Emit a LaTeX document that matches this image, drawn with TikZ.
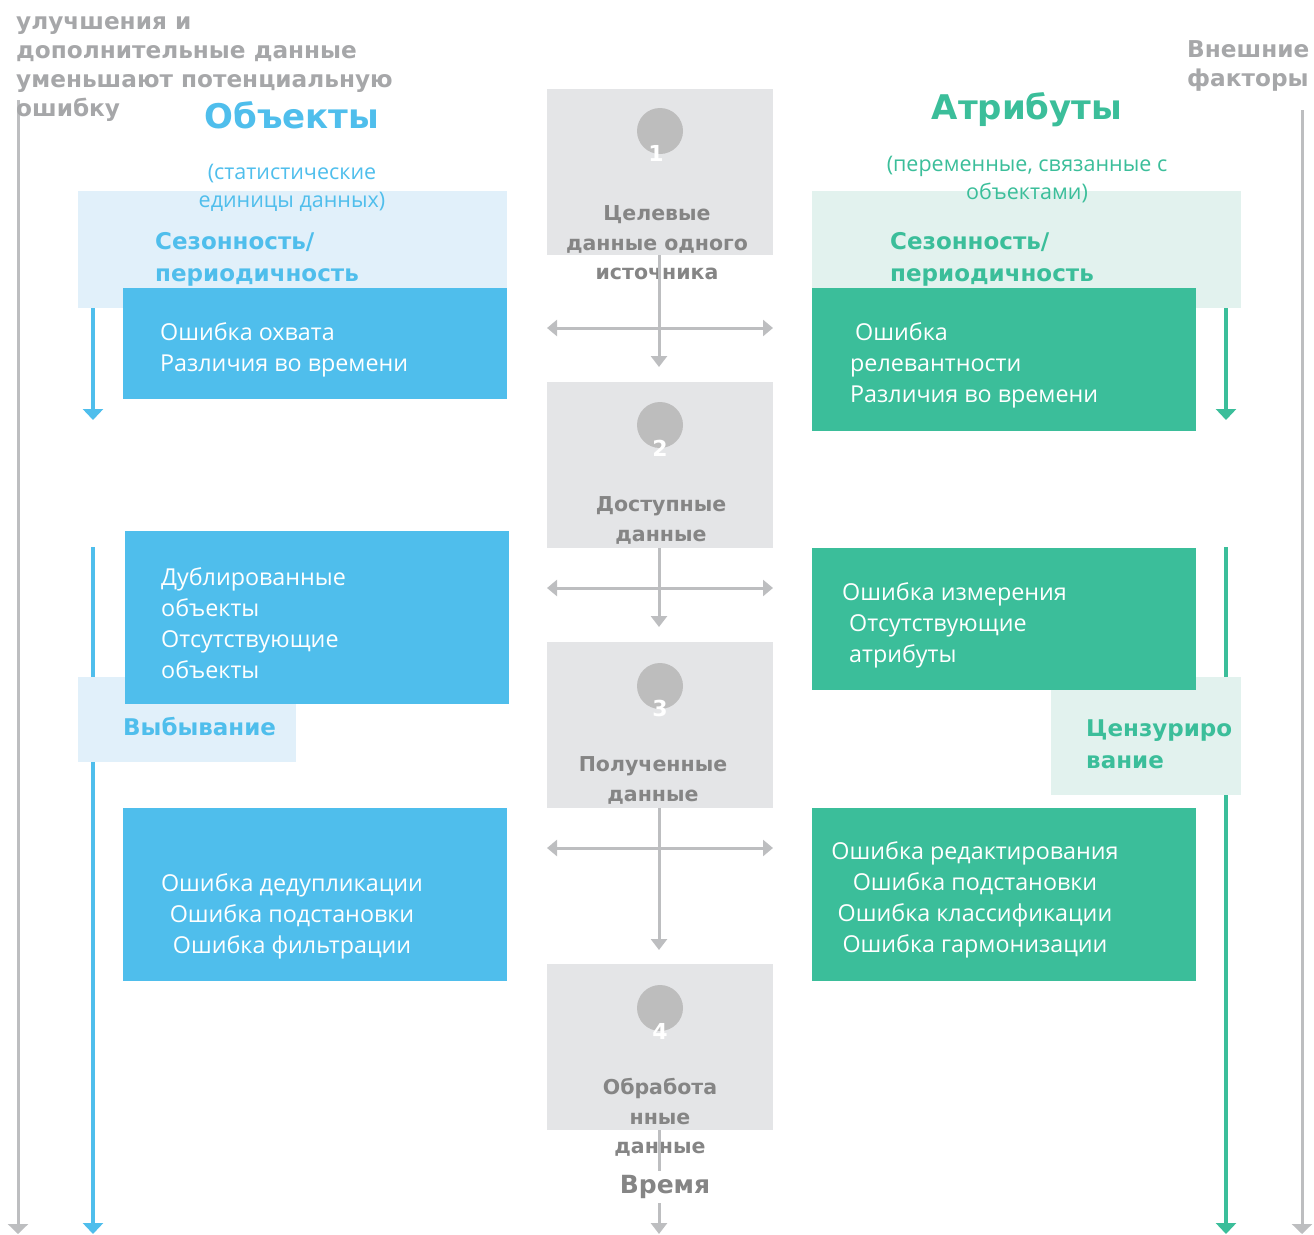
\documentclass[tikz,border=0pt]{standalone}
\usepackage{fontspec}
\setmainfont{Open Sans}
\newfontfamily\hfont{DejaVu Sans}
\usetikzlibrary{arrows.meta}

\definecolor{objblue}{HTML}{4FBEEC}
\definecolor{objlight}{HTML}{E1F0FA}
\definecolor{attgreen}{HTML}{3BBE9A}
\definecolor{attlight}{HTML}{E2F2EE}
\definecolor{stagegray}{HTML}{E4E5E7}
\definecolor{dotgray}{HTML}{BDBDBD}
\definecolor{linegray}{HTML}{BDBEC0}
\definecolor{notegray}{HTML}{A6A7A9}
\definecolor{stagetext}{HTML}{858585}

\begin{document}
\begin{tikzpicture}[x=1pt,y=-1pt,
  panel/.style={anchor=north west, inner sep=0pt, outer sep=0pt, draw=none},
  headtext/.style={font=\hfont\bfseries\fontsize{34}{40}\selectfont},
  subtext/.style={font=\fontsize{21.5}{28}\selectfont, align=center},
  tagtext/.style={font=\hfont\bfseries\fontsize{23}{32}\selectfont, align=left, anchor=west, inner sep=0pt},
  boxtext/.style={font=\fontsize{23.3}{31}\selectfont, text=white, inner sep=0pt},
  notetext/.style={font=\hfont\bfseries\fontsize{23.2}{29}\selectfont, text=notegray, align=left, anchor=west, inner sep=0pt},
  stagelabel/.style={font=\hfont\bfseries\fontsize{20.5}{29.5}\selectfont, text=stagetext, align=center, inner sep=0pt},
  dot/.style={circle, fill=dotgray, minimum size=46pt, inner sep=0pt},
  num/.style={font=\hfont\bfseries\fontsize{22}{26}\selectfont, text=white, inner sep=0pt},
  flow/.style={draw=linegray, line width=3pt, -{Triangle[width=16pt,length=11pt]}},
  both/.style={draw=linegray, line width=3pt, {Triangle[width=16pt,length=10pt]}-{Triangle[width=16pt,length=10pt]}},
  side/.style={line width=3pt, -{Triangle[width=20pt,length=11pt]}},
]
\useasboundingbox (0,0) rectangle (1314,1234);

% long guide lines along both margins and timelines
\coordinate (gl0) at (18,100);   \coordinate (gl1) at (18,1234);
\coordinate (gr0) at (1302,110); \coordinate (gr1) at (1302,1234);
\coordinate (bl0) at (93,547);   \coordinate (bl1) at (93,1234);
\coordinate (gn0) at (1226,547); \coordinate (gn1) at (1226,1234);
\draw[side, draw=linegray, -{Triangle[width=20pt,length=10pt]}] (gl0) -- (gl1);
\draw[side, draw=linegray, -{Triangle[width=20pt,length=10pt]}] (gr0) -- (gr1);
\draw[side, draw=objblue, line width=4pt] (bl0) -- (bl1);
\draw[side, draw=attgreen, line width=4pt] (gn0) -- (gn1);

% light background panels
\node[panel, fill=objlight, minimum width=429pt, minimum height=117pt] (objseason) at (78,191) {};
\node[panel, fill=objlight, minimum width=218pt, minimum height=85pt] (objdrop) at (78,677) {};
\node[panel, fill=attlight, minimum width=429pt, minimum height=117pt] (attseason) at (812,191) {};
\node[panel, fill=attlight, minimum width=190pt, minimum height=118pt] (attcens) at (1051,677) {};

% object error boxes
\node[panel, fill=objblue, minimum width=384pt, minimum height=111pt] (ob1) at (123,288) {};
\node[panel, fill=objblue, minimum width=384pt, minimum height=173pt] (ob2) at (125,531) {};
\node[panel, fill=objblue, minimum width=384pt, minimum height=173pt] (ob3) at (123,808) {};

% attribute error boxes
\node[panel, fill=attgreen, minimum width=384pt, minimum height=143pt] (at1) at (812,288) {};
\node[panel, fill=attgreen, minimum width=384pt, minimum height=142pt] (at2) at (812,548) {};
\node[panel, fill=attgreen, minimum width=384pt, minimum height=173pt] (at3) at (812,808) {};

% stage boxes
\node[panel, fill=stagegray, minimum width=226pt, minimum height=166pt] (st1) at (547,89) {};
\node[panel, fill=stagegray, minimum width=226pt, minimum height=166pt] (st2) at (547,382) {};
\node[panel, fill=stagegray, minimum width=226pt, minimum height=166pt] (st3) at (547,642) {};
\node[panel, fill=stagegray, minimum width=226pt, minimum height=166pt] (st4) at (547,964) {};

\node[dot] (d1) at (660,131) {};
\node[dot] (d2) at (660,425) {};
\node[dot] (d3) at (660,686) {};
\node[dot] (d4) at (660,1008) {};
\node[num] (n1) at (656,153) {1};
\node[num] (n2) at (660,448) {2};
\node[num] (n3) at (660,708) {3};
\node[num] (n4) at (660,1031) {4};

% short timeline arrows at the top of each side
\coordinate (bs0) at (93,308);   \coordinate (bs1) at (93,420);
\coordinate (gs0) at (1226,308); \coordinate (gs1) at (1226,420);
\draw[side, draw=objblue, line width=4pt] (bs0) -- (bs1);
\draw[side, draw=attgreen, line width=4pt] (gs0) -- (gs1);

% headings and notes
\node[notetext] (note) at (16,69.5) {улучшения и\\дополнительные данные\\уменьшают потенциальную\\ошибку};
\node[notetext] (ext) at (1187,66) {Внешние\\факторы};
\node[headtext, text=objblue] (objhead) at (292,115) {Объекты};
\node[subtext, text=objblue] (objsub) at (292,188) {(статистические\\единицы данных)};
\node[headtext, text=attgreen] (atthead) at (1027,110) {Атрибуты};
\node[subtext, text=attgreen] (attsub) at (1027,180) {(переменные, связанные с\\объектами)};

\node[tagtext, text=objblue] (objseasont) at (155,259) {Сезонность/\\периодичность};
\node[tagtext, text=attgreen] (attseasont) at (890,259) {Сезонность/\\периодичность};
\node[tagtext, text=objblue] (objdropt) at (123,727) {Выбывание};
\node[tagtext, text=attgreen] (attcenst) at (1086,744) {Цензуриро\\вание};

% box texts
\node[boxtext, align=left, anchor=west] (ob1t) at (160,349.5) {Ошибка охвата\\Различия во времени};
\node[boxtext, align=left, anchor=west] (ob2t) at (161,623.5) {Дублированные\\объекты\\Отсутствующие\\объекты};
\node[boxtext, align=center] (ob3t) at (292,916) {Ошибка дедупликации\\Ошибка подстановки\\Ошибка фильтрации};
\node[boxtext, align=left, anchor=west] (at1t) at (850,365) {\hspace*{5pt}Ошибка\\релевантности\\Различия во времени};
\node[boxtext, align=left, anchor=west] (at2t) at (842,625) {Ошибка измерения\\\hspace*{7pt}Отсутствующие\\\hspace*{7pt}атрибуты};
\node[boxtext, align=center] (at3t) at (975,899.5) {Ошибка редактирования\\Ошибка подстановки\\Ошибка классификации\\Ошибка гармонизации};

% stage labels
\node[stagelabel] (s1t) at (657,243) {Целевые\\данные одного\\источника};
\node[stagelabel] (s2t) at (661,520.5) {Доступные\\данные};
\node[stagelabel] (s3t) at (653,780.5) {Полученные\\данные};
\node[stagelabel] (s4t) at (660,1117.5) {Обработа\\нные\\данные};

% flow between stages
\coordinate (v1) at (659,367);
\coordinate (v2) at (659,627);
\coordinate (v3) at (659,950);
\coordinate (v4) at (659,1234);
\draw[flow] (st1.south -| v1) -- (v1);
\draw[flow] (st2.south -| v2) -- (v2);
\draw[flow] (st3.south -| v3) -- (v3);
\draw[flow] (st4.south -| v4) -- (v4);

\coordinate (h1l) at (547,328); \coordinate (h1r) at (773,328);
\coordinate (h2l) at (547,588); \coordinate (h2r) at (773,588);
\coordinate (h3l) at (547,848); \coordinate (h3r) at (773,848);
\draw[both] (h1l) -- (h1r);
\draw[both] (h2l) -- (h2r);
\draw[both] (h3l) -- (h3r);

\node[font=\hfont\bfseries\fontsize{25}{30}\selectfont, text=stagetext, fill=white, inner xsep=2pt, inner ysep=4pt] (time) at (665,1187) {Время};
\end{tikzpicture}
\end{document}
